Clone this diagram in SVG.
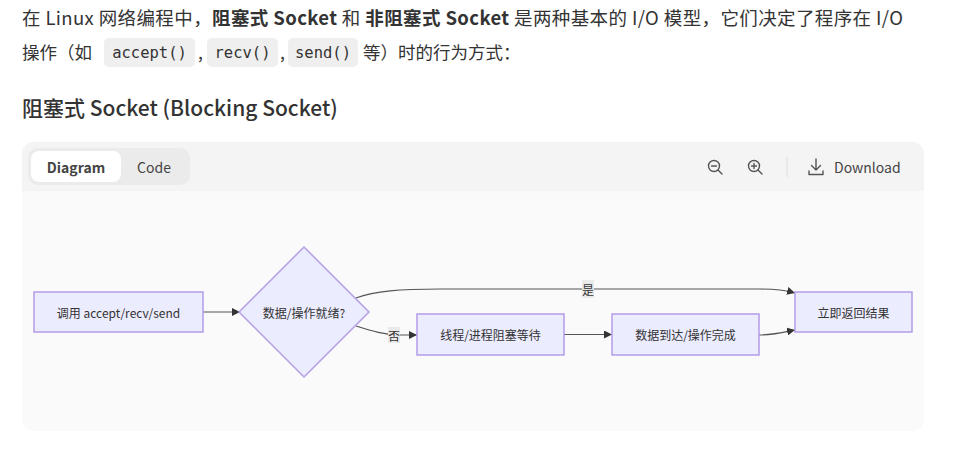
<svg xmlns="http://www.w3.org/2000/svg" width="953" height="450" viewBox="0 0 953 450">
<style>
.body{font-family:"Noto Sans CJK SC","Noto Sans",sans-serif;font-size:17.5px;fill:#333}
.l1{font-size:18.5px}
.b{font-weight:bold}
.code{font-family:"DejaVu Sans Mono","Liberation Mono",monospace;font-size:15.5px;fill:#333}
.pill{fill:#efefef}
.h{font-family:"Noto Sans CJK SC","Noto Sans",sans-serif;font-size:21px;font-weight:500;fill:#333}
.tb{font-family:"Noto Sans CJK SC","Noto Sans",sans-serif;font-size:14px;fill:#444}
.ic{fill:none;stroke:#555;stroke-width:1.4;stroke-linecap:round;stroke-linejoin:round}
.node{fill:#ececff;stroke:#b49de6;stroke-width:1.5}
.nt{font-family:"Noto Sans CJK SC","Noto Sans",sans-serif;font-size:12px;fill:#333;text-anchor:middle;dominant-baseline:central}
.edge{fill:none;stroke:#555;stroke-width:1.2}
.lbg{fill:#e8e8e8;opacity:0.9}
</style>
<defs>
<marker id="arr" viewBox="0 0 10 10" refX="10" refY="5" markerWidth="8" markerHeight="8" markerUnits="userSpaceOnUse" orient="auto">
<path d="M0,0 L10,5 L0,10 z" fill="#333"/>
</marker>
</defs>
<rect width="953" height="450" fill="#ffffff"/>
<text class="body l1" x="22" y="25" textLength="881" lengthAdjust="spacing">在 Linux 网络编程中，<tspan class="b">阻塞式 Socket</tspan> 和 <tspan class="b">非阻塞式 Socket</tspan> 是两种基本的 I/O 模型，它们决定了程序在 I/O</text>
<rect class="pill" x="104" y="38" width="91" height="29" rx="5"/>
<rect class="pill" x="207" y="38" width="71" height="29" rx="5"/>
<rect class="pill" x="288" y="38" width="70" height="29" rx="5"/>
<text class="body" x="22" y="59">操作（如</text>
<text class="code" x="149.5" y="58" text-anchor="middle">accept()</text>
<text class="body" x="198" y="59">,</text>
<text class="code" x="242.5" y="58" text-anchor="middle">recv()</text>
<text class="body" x="280" y="59">,</text>
<text class="code" x="323" y="58" text-anchor="middle">send()</text>
<text class="body" x="363" y="59">等）时的行为方式：</text>
<text class="h" x="22" y="116">阻塞式 Socket (Blocking Socket)</text>
<g id="card">
<rect x="22" y="142" width="902" height="289" rx="12" fill="#fafafa"/>
<path d="M22,191 V154 A12,12 0 0 1 34,142 H912 A12,12 0 0 1 924,154 V191 Z" fill="#f4f4f4"/>
<rect x="28" y="148" width="162" height="37" rx="10" fill="#ebebeb"/>
<rect x="31" y="151" width="90" height="31" rx="8" fill="#ffffff"/>
<text class="tb" x="76" y="173" text-anchor="middle" font-weight="600" fill="#333">Diagram</text>
<text class="tb" x="154" y="173" text-anchor="middle">Code</text>
<circle class="ic" cx="714" cy="166" r="5.5"/>
<path class="ic" d="M718,170 L722,174 M711.5,166 H716.5"/>
<circle class="ic" cx="754" cy="166" r="5.5"/>
<path class="ic" d="M758,170 L762,174 M751.5,166 H756.5 M754,163.5 V168.5"/>
<line x1="787" y1="157" x2="787" y2="177" stroke="#ddd" stroke-width="1"/>
<path class="ic" d="M816,159 V170 M811.5,165.5 L816,170 L820.5,165.5 M809,171 V174.5 H823 V171"/>
<text class="tb" x="834" y="173">Download</text>
</g>
<g id="connectors">
<path class="edge" d="M203,312 L240,312" marker-end="url(#arr)"/>
<path class="edge" d="M356,326 C372,331 385,335 400,335 L417,335" marker-end="url(#arr)"/>
<path class="edge" d="M356,298 C375,291 400,289 440,289 L760,289 C780,289 788,291 795,293" marker-end="url(#arr)"/>
<path class="edge" d="M564,334.5 L612,334.5" marker-end="url(#arr)"/>
<path class="edge" d="M759,335 C775,335 785,332 795,330" marker-end="url(#arr)"/>
<rect class="lbg" x="582" y="280" width="12" height="18"/>
<text class="nt" x="588" y="289">是</text>
<rect class="lbg" x="388" y="327" width="12" height="16"/>
<text class="nt" x="394" y="335">否</text>
</g>
<g id="n-call">
<rect class="node" x="34" y="292" width="169" height="40"/>
<text class="nt" x="118.5" y="312">调用 accept/recv/send</text>
</g>
<g id="n-ready">
<polygon class="node" points="304,247 369,312 304,377 239,312"/>
<text class="nt" x="304" y="312">数据/操作就绪?</text>
</g>
<g id="n-block">
<rect class="node" x="417" y="314" width="147" height="41"/>
<text class="nt" x="490.5" y="334.5">线程/进程阻塞等待</text>
</g>
<g id="n-arrive">
<rect class="node" x="612" y="314" width="147" height="41"/>
<text class="nt" x="685.5" y="334.5">数据到达/操作完成</text>
</g>
<g id="n-return">
<rect class="node" x="795" y="292" width="117" height="40"/>
<text class="nt" x="853.5" y="312">立即返回结果</text>
</g>
</svg>
